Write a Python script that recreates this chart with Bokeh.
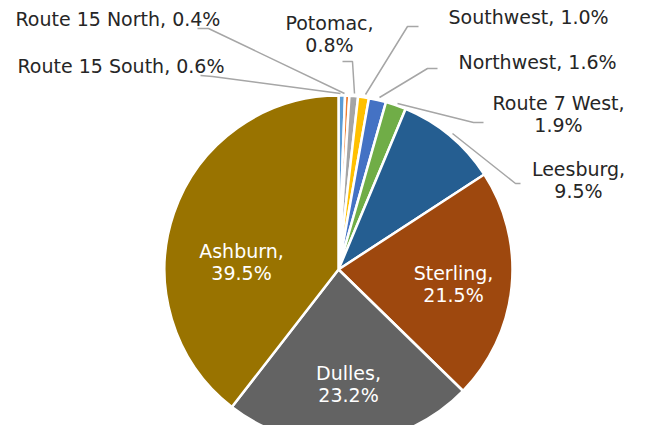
import math
from bokeh.plotting import figure
from bokeh.models import Range1d, ColumnDataSource
from bokeh.core.properties import value
from bokeh.embed import file_html
from bokeh.resources import INLINE

# ---- data (clockwise from 12 o'clock) ----
categories = ["Route 15 South", "Route 15 North", "Potomac", "Southwest", "Northwest",
              "Route 7 West", "Leesburg", "Sterling", "Dulles", "Ashburn"]
shares = [0.6, 0.4, 0.8, 1.0, 1.6, 1.9, 9.5, 21.5, 23.2, 39.5]
colors = ["#5B9BD5", "#ED7D31", "#A5A5A5", "#FFC000", "#4472C4",
          "#70AD47", "#255E91", "#9E480E", "#636363", "#997300"]

# ---- layout (picture-pixel coordinates, y measured downward) ----
W, H = 629, 425
CX, CY, R = 338, 269, 174

def fy(y):
    return H - y

p = figure(width=W, height=H, output_backend="svg", toolbar_location=None,
           x_range=Range1d(0, W), y_range=Range1d(0, H),
           x_axis_location=None, y_axis_location=None, min_border=0)
p.grid.visible = False
p.outline_line_color = None
p.background_fill_color = "white"
p.border_fill_color = "white"

# wedges
total = sum(shares)
starts, ends = [], []
cum = 0.0
for v in shares:
    c0 = cum / total
    cum += v
    c1 = cum / total
    starts.append(math.pi / 2 - 2 * math.pi * c1)
    ends.append(math.pi / 2 - 2 * math.pi * c0)
src = ColumnDataSource(dict(start=starts, end=ends, color=colors, cat=categories, v=shares))
p.wedge(x=CX, y=fy(CY), radius=R, radius_units="screen", start_angle="start", end_angle="end",
        direction="anticlock", fill_color="color", line_color="white", line_width=2.5, source=src)

# leader lines (picture-pixel coords)
leaders = {
    "Route 15 North": [(197, 28), (208, 28), (344, 93)],
    "Route 15 South": [(200, 75), (212, 76), (340, 93)],
    "Potomac": [(342, 61), (352, 61), (354, 93)],
    "Southwest": [(418, 26), (407, 26), (365, 94)],
    "Northwest": [(437, 68), (427, 68), (379, 97)],
    "Route 7 West": [(397, 103), (473, 122), (483, 122)],
    "Leesburg": [(452, 133), (515, 183), (520, 183)],
}
for cat, pts in leaders.items():
    p.line([q[0] for q in pts], [fy(q[1]) for q in pts], line_color="#A6A6A6", line_width=1.5)

# label layout: (mode, x, y of first line centre, align, color)
label_layout = {
    "Route 15 North": ("one", 15, 18, "left", "#262626"),
    "Route 15 South": ("one", 17, 65, "left", "#262626"),
    "Potomac": ("two", 329, 22, "center", "#262626"),
    "Southwest": ("one", 448, 16, "left", "#262626"),
    "Northwest": ("one", 458, 61, "left", "#262626"),
    "Route 7 West": ("two", 558, 102, "center", "#262626"),
    "Leesburg": ("two", 578, 168, "center", "#262626"),
    "Sterling": ("two", 453, 272, "center", "white"),
    "Dulles": ("two", 348, 372, "center", "white"),
    "Ashburn": ("two", 241, 250, "center", "white"),
}
LINE_H = 22
tx, ty, tt, ta, tc = [], [], [], [], []
for cat, v in zip(categories, shares):
    mode, x, y, align, col = label_layout[cat]
    if mode == "one":
        lines = [f"{cat}, {v:.1f}%"]
    else:
        lines = [f"{cat},", f"{v:.1f}%"]
    for i, s in enumerate(lines):
        tx.append(x); ty.append(fy(y + i * LINE_H)); tt.append(s); ta.append(align); tc.append(col)
tsrc = ColumnDataSource(dict(x=tx, y=ty, t=tt, a=ta, c=tc))
p.text(x="x", y="y", text="t", text_align="a", text_color="c", text_baseline="middle",
       text_font=value("DejaVu Sans"), text_font_size="19px", source=tsrc)

open("out.html", "w").write(file_html(p, INLINE))
